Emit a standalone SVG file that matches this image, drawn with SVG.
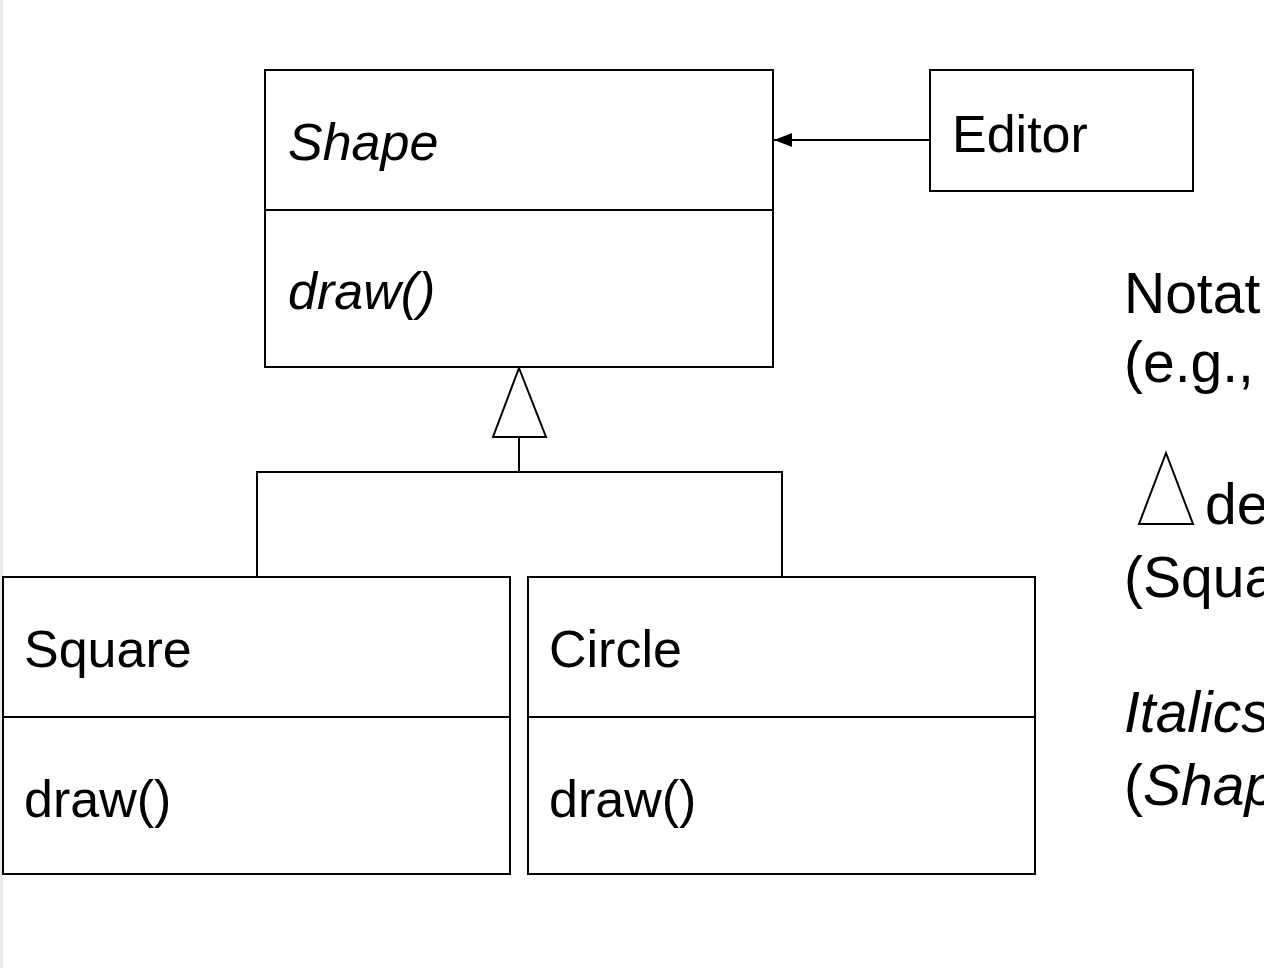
<svg xmlns="http://www.w3.org/2000/svg" width="1264" height="968" viewBox="0 0 1264 968">
<defs>
<style>
.box{fill:#fff;stroke:#000;stroke-width:2}
.ln{fill:none;stroke:#000;stroke-width:2}
.t{font-family:"Liberation Sans",Arial,sans-serif;font-size:52px;fill:#000}
.n{font-family:"Liberation Sans",Arial,sans-serif;font-size:57px;fill:#000}
.i{font-style:italic}
</style>
<marker id="arr" viewBox="0 0 18 14" refX="18" refY="7" markerWidth="18" markerHeight="14" markerUnits="userSpaceOnUse" orient="auto">
<path d="M0,0 L18,7 L0,14 Z" fill="#000"/>
</marker>
</defs>
<rect x="0" y="0" width="1264" height="968" fill="#fff"/>
<rect x="0" y="0" width="3" height="968" fill="#ebebeb"/>
<g id="connectors">
<line class="ln" x1="930" y1="140" x2="774" y2="140" marker-end="url(#arr)"/>
<polygon class="ln" points="519,368 546,437 493,437"/>
<line class="ln" x1="519" y1="437" x2="519" y2="472"/>
<polyline class="ln" points="257,577 257,472 782,472 782,577"/>
</g>
<g id="shape">
<rect class="box" x="265" y="70" width="508" height="297"/>
<line class="ln" x1="265" y1="210" x2="773" y2="210"/>
<text class="t i" x="288" y="160">Shape</text>
<text class="t i" x="288" y="309">draw()</text>
</g>
<g id="editor">
<rect class="box" x="930" y="70" width="263" height="121"/>
<text class="t" x="952" y="152">Editor</text>
</g>
<g id="square">
<rect class="box" x="3" y="577" width="507" height="297"/>
<line class="ln" x1="3" y1="717" x2="510" y2="717"/>
<text class="t" x="24" y="667">Square</text>
<text class="t" x="24" y="817">draw()</text>
</g>
<g id="circle">
<rect class="box" x="528" y="577" width="507" height="297"/>
<line class="ln" x1="528" y1="717" x2="1035" y2="717"/>
<text class="t" x="549" y="667">Circle</text>
<text class="t" x="549" y="817">draw()</text>
</g>
<g id="notation">
<text class="n" x="1124" y="313">Notat</text>
<text class="n" x="1124" y="382">(e.g.,</text>
<polygon class="ln" points="1166,453 1193,524 1139,524"/>
<text class="n" x="1205" y="524">de</text>
<text class="n" x="1124" y="597">(Squa</text>
<text class="n i" x="1124" y="732">Italics</text>
<text class="n" x="1124" y="805">(<tspan class="i">Shap</tspan></text>
</g>
</svg>
